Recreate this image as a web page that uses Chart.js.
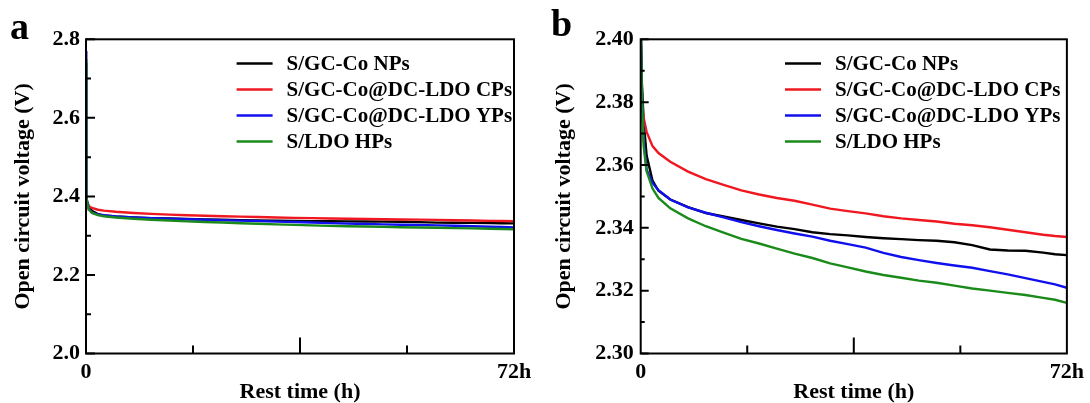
<!DOCTYPE html>
<html>
<head>
<meta charset="utf-8">
<script src="https://cdn.jsdelivr.net/npm/chart.js@4.4.1/dist/chart.umd.min.js"></script>
<style>
  html, body { margin: 0; padding: 0; background: #fff; }
  #wrap { position: relative; width: 1090px; height: 403px; overflow: hidden; }
  .panel { position: absolute; top: 0; width: 545px; height: 403px; }
  .panel canvas { display: block; }
  .letter { position: absolute; font-family: "Liberation Serif", "Times New Roman", serif; font-weight: bold; font-size: 38px; line-height: 1; color: #000; }
</style>
</head>
<body>
<div id="wrap">
  <div class="panel" style="left:0"><canvas id="chartA" width="545" height="403"></canvas></div>
  <div class="panel" style="left:545px"><canvas id="chartB" width="545" height="403"></canvas></div>
  <div class="letter" style="left:10px; top:7px">a</div>
  <div class="letter" style="left:551px; top:4px">b</div>
</div>
<script>
// rest time (h) and open circuit voltage (V) of the four cathodes
const restTime = [0, 0.05, 0.2, 0.5, 1, 2, 3, 5, 8, 11, 14, 17, 20, 23, 26, 29, 32, 35, 38, 41, 44, 47, 50, 53, 56, 59, 62, 65, 68, 70, 72];
const ocvNPs = [2.74, 2.40, 2.386, 2.374, 2.363, 2.355, 2.3518, 2.349, 2.3466, 2.3447, 2.3436, 2.3425, 2.3414, 2.3404, 2.3396, 2.3386, 2.338, 2.3376, 2.3371, 2.3367, 2.3364, 2.3361, 2.3359, 2.3354, 2.3345, 2.3331, 2.3328, 2.3327, 2.3321, 2.3316, 2.3313];
const ocvCPs = [2.389, 2.386, 2.381, 2.375, 2.3705, 2.366, 2.3638, 2.361, 2.3579, 2.3555, 2.3537, 2.3519, 2.3506, 2.3495, 2.3486, 2.3474, 2.3461, 2.3453, 2.3446, 2.3437, 2.343, 2.3425, 2.342, 2.3413, 2.3408, 2.3402, 2.3394, 2.3386, 2.3378, 2.3374, 2.3371];
const ocvYPs = [2.77, 2.40, 2.384, 2.368, 2.3585, 2.3543, 2.352, 2.349, 2.3465, 2.3448, 2.3433, 2.3418, 2.3405, 2.3393, 2.3382, 2.3372, 2.3359, 2.3348, 2.3337, 2.332, 2.3307, 2.3297, 2.3288, 2.328, 2.3273, 2.3262, 2.3252, 2.324, 2.3228, 2.322, 2.3209];
const ocvHPs = [2.75, 2.40, 2.383, 2.366, 2.358, 2.3525, 2.3495, 2.3462, 2.343, 2.3405, 2.3385, 2.3365, 2.335, 2.3334, 2.3318, 2.3304, 2.3287, 2.3274, 2.3261, 2.325, 2.3241, 2.3232, 2.3225, 2.3216, 2.3207, 2.32, 2.3193, 2.3186, 2.3177, 2.3171, 2.3161];

const seriesNames = ['S/GC-Co NPs', 'S/GC-Co@DC-LDO CPs', 'S/GC-Co@DC-LDO YPs', 'S/LDO HPs'];
const seriesColors = ['#000000', '#f01820', '#1010ee', '#1a8a1a'];

// ticks
const xLabelTicks = [0, 72];
const xMajorTicks = [36];
const xMinorTicks = [18, 54];
const yTicksA = [2.0, 2.2, 2.4, 2.6, 2.8];
const yMinorA = [2.1, 2.3, 2.5, 2.7];
const yTicksB = [2.30, 2.32, 2.34, 2.36, 2.38, 2.40];
const yMinorB = [2.31, 2.33, 2.35, 2.37, 2.39];

Chart.defaults.font.family = '"Liberation Serif", "Times New Roman", serif';
Chart.defaults.color = '#000';

const tickFont = { size: 22, weight: 'bold' };
const titleFont = { size: 22, weight: 'bold', lineHeight: 1 };

function makeDatasets() {
  const all = [ocvNPs, ocvCPs, ocvYPs, ocvHPs];
  return all.map((vals, i) => ({
    label: seriesNames[i],
    data: restTime.map((t, k) => ({ x: t, y: vals[k] })),
    borderColor: seriesColors[i],
    borderWidth: 2.4,
    pointRadius: 0,
    tension: 0,
    fill: false,
    order: 3 - i   // green drawn last, on top
  }));
}

// box frame, inward ticks and the legend
const frameAndTicks = {
  id: 'frameAndTicks',
  afterDatasetsDraw(chart, args, opts) {
    const { ctx, chartArea: { left, right, top, bottom }, scales: { x, y } } = chart;
    ctx.save();
    ctx.strokeStyle = '#000';
    ctx.lineWidth = 2;
    ctx.beginPath();
    opts.yMajor.forEach(v => { const py = y.getPixelForValue(v); ctx.moveTo(left, py); ctx.lineTo(left + opts.yMajorLen, py); });
    opts.yMinor.forEach(v => { const py = y.getPixelForValue(v); ctx.moveTo(left, py); ctx.lineTo(left + opts.yMinorLen, py); });
    xMajorTicks.forEach(v => { const px = x.getPixelForValue(v); ctx.moveTo(px, bottom); ctx.lineTo(px, bottom - opts.xMajorLen); });
    xMinorTicks.forEach(v => { const px = x.getPixelForValue(v); ctx.moveTo(px, bottom); ctx.lineTo(px, bottom - opts.xMinorLen); });
    ctx.stroke();
    ctx.strokeRect(left, top, right - left, bottom - top);

    ctx.font = 'bold 21px "Liberation Serif", "Times New Roman", serif';
    ctx.textBaseline = 'middle';
    ctx.textAlign = 'left';
    ctx.lineWidth = 2.4;
    chart.data.datasets.forEach((ds, i) => {
      const ly = opts.legendY + i * 26;
      ctx.strokeStyle = ds.borderColor;
      ctx.beginPath();
      ctx.moveTo(opts.legendX, ly);
      ctx.lineTo(opts.legendX + 36, ly);
      ctx.stroke();
      ctx.fillStyle = '#000';
      ctx.fillText(ds.label, opts.legendX + 50, ly + 1);
    });
    ctx.restore();
  }
};

function makeChart(id, cfg) {
  return new Chart(document.getElementById(id), {
    type: 'line',
    data: { datasets: makeDatasets() },
    options: {
      responsive: false,
      animation: false,
      devicePixelRatio: 1,
      layout: { padding: { left: 0, top: 39.3, right: cfg.padRight, bottom: 0 } },
      plugins: {
        legend: { display: false },
        tooltip: { enabled: false },
        frameAndTicks: cfg.frame
      },
      scales: {
        x: {
          type: 'linear', min: 0, max: 72,
          grid: { display: false, drawTicks: false }, border: { display: false },
          afterBuildTicks: s => { s.ticks = xLabelTicks.map(v => ({ value: v })); },
          ticks: { font: tickFont, color: '#000', padding: 6, maxRotation: 0, autoSkip: false,
                   callback: v => v === 72 ? '72h' : String(v) },
          title: { display: true, text: 'Rest time (h)', font: titleFont, color: '#000', padding: { top: 0, bottom: 0 } },
          afterFit: s => { s.height = 49.5; }
        },
        y: {
          type: 'linear', min: cfg.yMin, max: cfg.yMax,
          grid: { display: false, drawTicks: false }, border: { display: false },
          afterBuildTicks: s => { s.ticks = cfg.yTicks.map(v => ({ value: v })); },
          ticks: { font: tickFont, color: '#000', padding: cfg.yTickPad, autoSkip: false,
                   callback: v => v.toFixed(cfg.digits) },
          title: { display: true, text: 'Open circuit voltage (V)', font: titleFont, color: '#000', padding: { top: cfg.yTitlePad, bottom: 0 } },
          afterFit: s => { s.width = cfg.yWidth; }
        }
      }
    },
    plugins: [frameAndTicks]
  });
}

makeChart('chartA', {
  yMin: 2.0, yMax: 2.8, yTicks: yTicksA, digits: 1, yWidth: 86, yTickPad: 6, yTitlePad: 12.3, padRight: 31,
  frame: { yMajor: yTicksA, yMinor: yMinorA, yMajorLen: 9, yMinorLen: 5, xMajorLen: 16, xMinorLen: 8, legendX: 236.6, legendY: 63.5 }
});

makeChart('chartB', {
  yMin: 2.30, yMax: 2.40, yTicks: yTicksB, digits: 2, yWidth: 95.7, yTickPad: 7, yTitlePad: 8, padRight: 22,
  frame: { yMajor: yTicksB, yMinor: yMinorB, yMajorLen: 8, yMinorLen: 4, xMajorLen: 16, xMinorLen: 8, legendX: 240, legendY: 63.5 }
});
</script>
</body>
</html>
